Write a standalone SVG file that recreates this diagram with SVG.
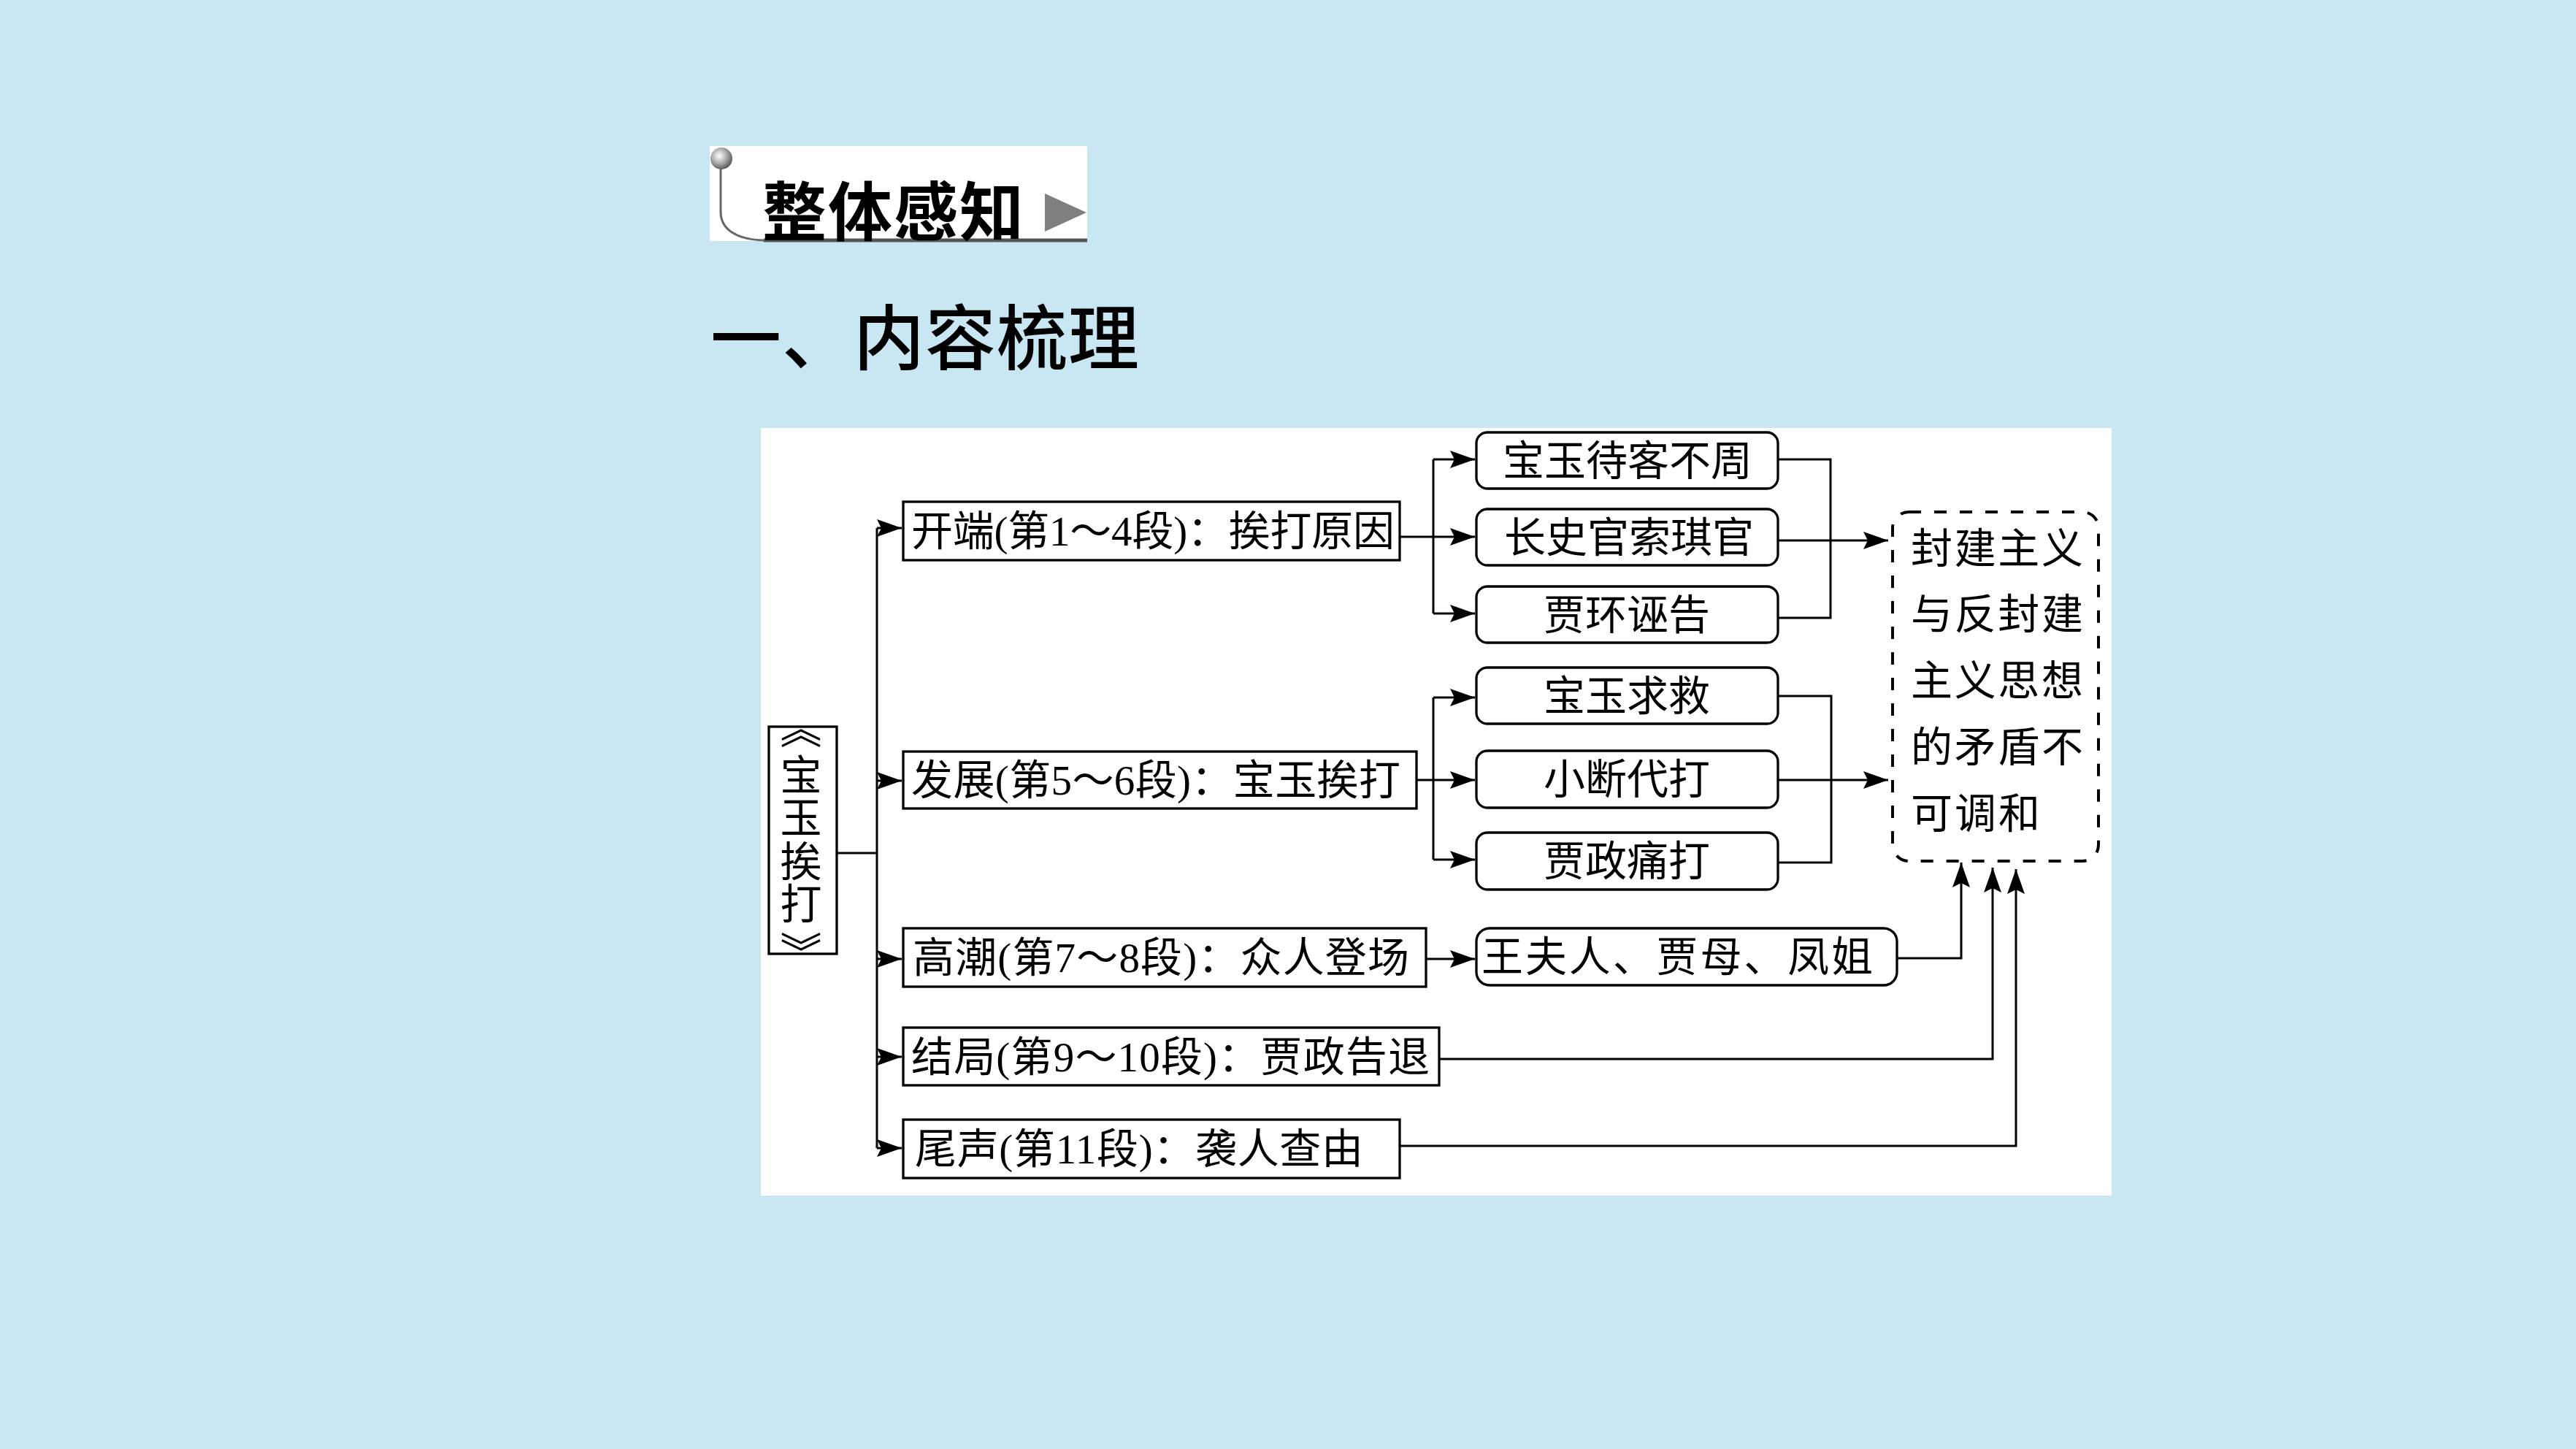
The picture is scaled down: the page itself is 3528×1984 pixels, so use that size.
<svg xmlns="http://www.w3.org/2000/svg" width="3528" height="1984" viewBox="0 0 3528 1984">
<style>
.box{fill:#fff;stroke:#000;stroke-width:3.3}
.conn{fill:none;stroke:#000;stroke-width:3}
.dash{fill:#fff;stroke:#000;stroke-width:4;stroke-dasharray:17 18}
.t{font-family:"Liberation Serif","Noto Sans CJK SC",serif;font-size:57px;fill:#000;dominant-baseline:central}
.c{text-anchor:middle}
.h{font-family:"Noto Sans CJK SC","Liberation Sans",sans-serif;fill:#000;dominant-baseline:central}
</style>
<defs>
<marker id="arr" markerUnits="userSpaceOnUse" viewBox="-36 -14 38 28" refX="0" refY="0" markerWidth="38" markerHeight="28" orient="auto">
<path d="M0,0 L-34,-12 L-28,0 L-34,12 Z" fill="#000"/>
</marker>
<radialGradient id="ball" cx="0.4" cy="0.38" r="0.65">
<stop offset="0" stop-color="#ffffff"/>
<stop offset="0.55" stop-color="#a8a8a8"/>
<stop offset="1" stop-color="#555555"/>
</radialGradient>
</defs>
<rect x="0" y="0" width="3528" height="1984" fill="#c9e7f3"/>

<g id="header">
<rect x="972" y="200" width="517" height="130" fill="#fff"/>
<path d="M987,230 V290 C987,315 1010,328 1046,329 H1489" fill="none" stroke="#666" stroke-width="3"/>
<line x1="1046" y1="329" x2="1489" y2="329" stroke="#555" stroke-width="5"/>
<circle cx="988" cy="217" r="15" fill="url(#ball)"/>
<text class="h" x="1044" y="283" font-size="88" font-weight="700" textLength="358">整体感知</text>
<polygon points="1431,265 1488,291 1431,317" fill="#7f7f7f"/>
</g>
<g id="section-title">
<text class="h" x="973" y="455" font-size="97" font-weight="500" textLength="587">一、内容梳理</text>
</g>

<rect id="panel" x="1042" y="586" width="1850" height="1051" fill="#fff"/>

<g id="connectors">
<path class="conn" d="M1147,1168 H1201 M1201,723 V1572"/>
<path class="conn" marker-end="url(#arr)" d="M1201,723 H1235"/>
<path class="conn" marker-end="url(#arr)" d="M1201,1069 H1235"/>
<path class="conn" marker-end="url(#arr)" d="M1201,1313 H1235"/>
<path class="conn" marker-end="url(#arr)" d="M1201,1447 H1235"/>
<path class="conn" marker-end="url(#arr)" d="M1201,1572 H1235"/>
<path class="conn" d="M1917,735 H1963 M1963,629 V840"/>
<path class="conn" marker-end="url(#arr)" d="M1963,629 H2020"/>
<path class="conn" marker-end="url(#arr)" d="M1963,735 H2020"/>
<path class="conn" marker-end="url(#arr)" d="M1963,840 H2020"/>
<path class="conn" d="M1940,1068 H1963 M1963,955 V1177"/>
<path class="conn" marker-end="url(#arr)" d="M1963,955 H2020"/>
<path class="conn" marker-end="url(#arr)" d="M1963,1068 H2020"/>
<path class="conn" marker-end="url(#arr)" d="M1963,1177 H2020"/>
<path class="conn" d="M2435,629 H2507 V846 H2435"/>
<path class="conn" marker-end="url(#arr)" d="M2435,740 H2586"/>
<path class="conn" d="M2435,953 H2508 V1181 H2435"/>
<path class="conn" marker-end="url(#arr)" d="M2435,1068 H2586"/>
<path class="conn" marker-end="url(#arr)" d="M1953,1313 H2020"/>
<path class="conn" marker-end="url(#arr)" d="M2598,1312 H2686 V1181"/>
<path class="conn" marker-end="url(#arr)" d="M1971,1450 H2729 V1188"/>
<path class="conn" marker-end="url(#arr)" d="M1917,1569 H2761 V1190"/>
</g>

<g id="n-root">
<rect class="box" x="1053" y="995" width="93" height="311"/>
<text class="t c" x="1097" y="998">︽</text>
<text class="t c" x="1097" y="1062">宝</text>
<text class="t c" x="1097" y="1120">玉</text>
<text class="t c" x="1097" y="1180">挨</text>
<text class="t c" x="1097" y="1238">打</text>
<text class="t c" x="1097" y="1305">︾</text>
</g>

<g id="n-kaiduan">
<rect class="box" x="1237" y="687" width="680" height="80"/>
<text class="t" x="1248" y="727" textLength="662">开端(第1～4段)：挨打原因</text>
</g>
<g id="n-fazhan">
<rect class="box" x="1237" y="1029" width="703" height="78"/>
<text class="t" x="1248" y="1068" textLength="670">发展(第5～6段)：宝玉挨打</text>
</g>
<g id="n-gaochao">
<rect class="box" x="1237" y="1271" width="716" height="80"/>
<text class="t" x="1250" y="1311" textLength="680">高潮(第7～8段)：众人登场</text>
</g>
<g id="n-jieju">
<rect class="box" x="1237" y="1407" width="734" height="79"/>
<text class="t" x="1248" y="1447" textLength="710">结局(第9～10段)：贾政告退</text>
</g>
<g id="n-weisheng">
<rect class="box" x="1237" y="1533" width="680" height="80"/>
<text class="t" x="1253" y="1573" textLength="614">尾声(第11段)：袭人查由</text>
</g>

<g id="n-r1"><rect class="box" x="2022" y="592" width="413" height="77" rx="15"/><text class="t c" x="2229" y="631">宝玉待客不周</text></g>
<g id="n-r2"><rect class="box" x="2022" y="697" width="413" height="77" rx="15"/><text class="t c" x="2231" y="736">长史官索琪官</text></g>
<g id="n-r3"><rect class="box" x="2022" y="803" width="413" height="77" rx="15"/><text class="t c" x="2228" y="842">贾环诬告</text></g>
<g id="n-r4"><rect class="box" x="2022" y="914" width="413" height="77" rx="15"/><text class="t c" x="2228" y="953">宝玉求救</text></g>
<g id="n-r5"><rect class="box" x="2022" y="1028" width="413" height="78" rx="15"/><text class="t c" x="2228" y="1067">小断代打</text></g>
<g id="n-r6"><rect class="box" x="2022" y="1140" width="413" height="78" rx="15"/><text class="t c" x="2228" y="1179">贾政痛打</text></g>
<g id="n-r7"><rect class="box" x="2022" y="1271" width="576" height="78" rx="18"/><text class="t" x="2029" y="1310" textLength="536">王夫人、贾母、凤姐</text></g>

<g id="n-theme">
<rect class="dash" x="2592" y="701" width="282" height="478" rx="22"/>
<text class="t" x="2617" y="751" textLength="236">封建主义</text>
<text class="t" x="2617" y="841" textLength="236">与反封建</text>
<text class="t" x="2617" y="932" textLength="236">主义思想</text>
<text class="t" x="2617" y="1023" textLength="236">的矛盾不</text>
<text class="t" x="2617" y="1114" textLength="177">可调和</text>
</g>
</svg>
